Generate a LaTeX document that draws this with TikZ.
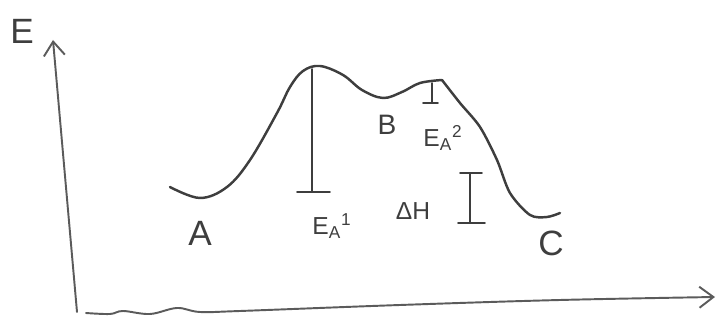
\documentclass[tikz,border=0pt]{standalone}
\usepackage{fontspec}
\setmainfont{Liberation Sans}
\usepackage{amsmath}
\usetikzlibrary{arrows.meta}
\definecolor{pencil}{RGB}{62,62,62}

\begin{document}
\begin{tikzpicture}[x=0.02cm, y=-0.02cm,
  curve/.style={draw=pencil, line width=1.4pt, line cap=round, line join=round},
  axis/.style={draw=pencil!85, line width=1.1pt, line cap=round,
    -{Straight Barb[length=2.8mm, width=4.2mm]}},
  bar/.style={draw=pencil, line width=0.9pt, line cap=round},
  biglabel/.style={text=pencil, font=\fontsize{20}{20}\selectfont, inner sep=0pt},
  midlabel/.style={text=pencil, font=\fontsize{16}{16}\selectfont, inner sep=0pt},
  smalllabel/.style={text=pencil, font=\fontsize{14}{14}\selectfont, inner sep=0pt}
]
\useasboundingbox (0,0) rectangle (725,327);

% Axes
\draw[axis] (77,312) -- (53,40);
\draw[axis] plot[smooth, tension=0.6] coordinates
  {(86,313) (110,314) (123,311) (150,314) (177,308) (200,312) (240,311)
   (400,305) (560,300) (715,297)};
\node[biglabel] (labE) at (22,31) {E};

% Energy profile
\coordinate (peak2top) at (442,80);
\draw[curve] plot[smooth, tension=0.6] coordinates
  {(170,187) (200,198) (227,187) (250,160) (277,113) (290,87)
   (303,71) (320,66) (343,75) (362,90) (383,98) (402,92)
   (420,83) (442,80)};
\draw[curve] plot[smooth, tension=0.5] coordinates
  {(442,80) (460,103) (480,127) (497,160) (510,193)
   (530,215) (547,217) (560,213)};

% Activation energy 1
\coordinate (peak1) at (312,69);
\coordinate (base1) at (312,192);
\draw[bar] (peak1) -- (base1);
\draw[bar] (base1) ++(-15,0) -- ++(33,0);

% Activation energy 2
\coordinate (peak2) at (432,83);
\coordinate (base2) at (432,103);
\draw[bar] (peak2) -- (base2);
\draw[bar] (base2) ++(-9,0) -- ++(15,0);

% Reaction enthalpy
\coordinate (dhtop) at (470,173);
\coordinate (dhbot) at (470,223);
\draw[bar] (dhtop) -- (dhbot);
\draw[bar] (dhtop) ++(-10,0) -- ++(22,0);
\draw[bar] (dhbot) ++(-12,0) -- ++(27,0);

% Labels
\node[biglabel] (labA) at (200,233) {A};
\node[midlabel] (labB) at (387,125) {B};
\node[biglabel] (labC) at (551,243) {C};
\node[smalllabel] (labEa1) at (332,226) {E$_{\text{A}}{}^{\text{1}}$};
\node[smalllabel] (labEa2) at (443,138) {E$_{\text{A}}{}^{\text{2}}$};
\node[smalllabel] (labDH) at (413,211) {ΔH};

\end{tikzpicture}
\end{document}
